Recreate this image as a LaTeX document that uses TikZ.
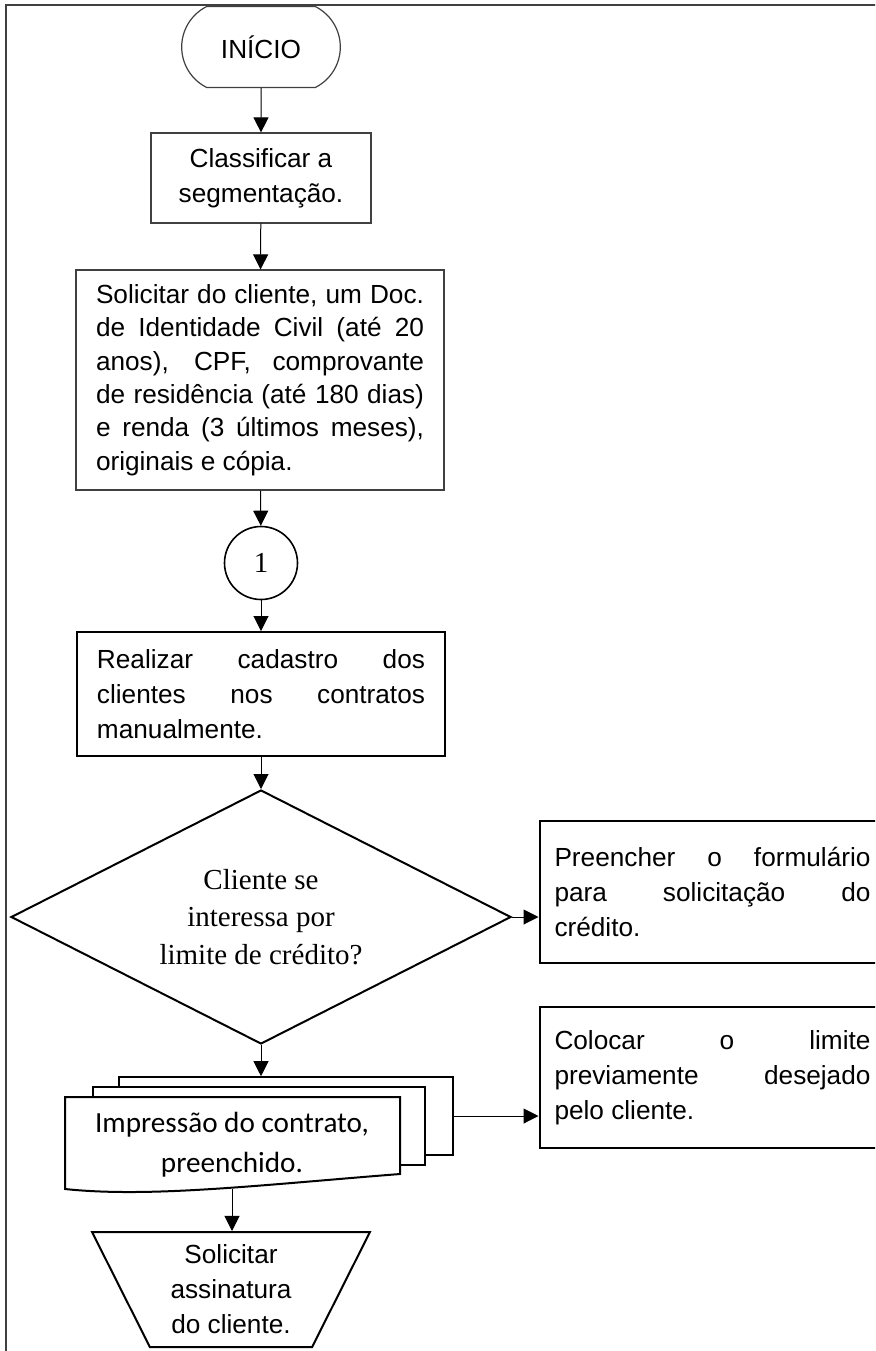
\documentclass[tikz,border=0pt]{standalone}
\usepackage{fontspec}
\setmainfont{Liberation Sans}
\newfontfamily\timesf{Liberation Serif}
\newfontfamily\calif{Carlito}
\usepackage{tikz}
\usetikzlibrary{arrows.meta, shapes.geometric, shapes.misc, positioning}
\tolerance=10000
\hyphenpenalty=10000

\begin{document}
\begin{tikzpicture}[x=0.5pt, y=-0.5pt,
    font=\fontsize{13.1}{17.5}\selectfont,
    seta/.style={-{Triangle[length=7.5pt,width=7.5pt]}, line width=0.5pt},
    fino/.style={draw=black!75, line width=0.6pt},
    caixa/.style={draw, line width=1pt, align=justify, text width=164pt, inner xsep=10pt},
    folha/.style={draw, fill=white, line width=0.8pt, minimum height=39pt, inner sep=0pt},
    serif/.style={font=\timesf\fontsize{14.5}{18.75}\selectfont}]
\useasboundingbox (0,0) rectangle (875,1351);
\clip (0,0) rectangle (875,1351);
\draw[black!75, line width=0.8pt] (6,1360) -- (6,5) -- (880,5);
%
\node[fino, rounded rectangle, rounded rectangle arc length=127,
      minimum width=86pt, minimum height=40.5pt] (ini) at (261,47) {INÍCIO};
\node[fino, minimum width=110pt, minimum height=45pt, align=center]
      (cls) at (261,178) {Classificar a\\segmentação.};
\node[caixa, fino, minimum height=110pt, font=\fontsize{13.1}{16.7}\selectfont]
      (sol) at (260,380)
      {Solicitar do cliente, um Doc.\linebreak de Identidade Civil (até 20\linebreak
       anos), CPF, comprovante\linebreak de residência (até 180 dias)\linebreak
       e renda (3 últimos meses),\linebreak originais e cópia.};
\node[circle, draw, line width=0.8pt, minimum size=36.5pt, serif] (one) at (261,563) {1};
\node[caixa, minimum height=62pt] (rea) at (261,694)
      {Realizar cadastro dos\linebreak clientes nos contratos\linebreak manualmente.};
\node[diamond, aspect=2, draw, line width=1pt, minimum width=250pt, minimum height=127pt,
      inner sep=0pt, align=center, serif] (dia) at (261,917)
      {Cliente se\\interessa por\\limite de crédito?};
\node[caixa, text width=158pt, inner xsep=7.5pt, minimum height=71pt] (pre) at (712.5,892)
      {Preencher o formulário\linebreak para solicitação do\linebreak crédito.};
\node[caixa, text width=158pt, inner xsep=7.5pt, minimum height=70.5pt] (col) at (712.5,1077.5)
      {Colocar o limite\linebreak previamente desejado\linebreak pelo cliente.};
%
\node[folha, minimum width=167pt] (doc3) at (286,1116) {};
\node[folha, minimum width=166pt] (doc2) at (259,1126) {};
\draw[fill=white, line width=1pt] (65,1189) -- (65,1097) -- (400,1097) -- (400,1174)
      .. controls (260,1185) and (150,1198) .. (65,1189) -- cycle;
\node[align=center, font=\calif\fontsize{14.6}{20}\selectfont] (doc) at (232,1145)
      {Impressão do contrato,\\preenchido.};
\coordinate (docb) at (232,1189);
\node[trapezium, shape border rotate=180, trapezium stretches=true, trapezium angle=65,
      draw, line width=1pt, minimum width=139pt, minimum height=57.5pt, align=center]
      (tra) at (231,1289.5) {Solicitar\\assinatura\\do cliente.};
%
\draw[seta] (ini) -- (cls);
\draw[seta] (cls) -- (sol);
\draw[seta] (sol) -- (one);
\draw[seta] (one) -- (rea);
\draw[seta] (rea) -- (dia);
\draw[seta] (dia.east) -- (dia.east -| pre.west);
\draw[seta] (dia.south) -- (dia.south |- doc3.north);
\draw[seta] (doc3.east) -- (doc3.east -| col.west);
\draw[seta] (docb) -- (docb |- tra.north);
\end{tikzpicture}
\end{document}
